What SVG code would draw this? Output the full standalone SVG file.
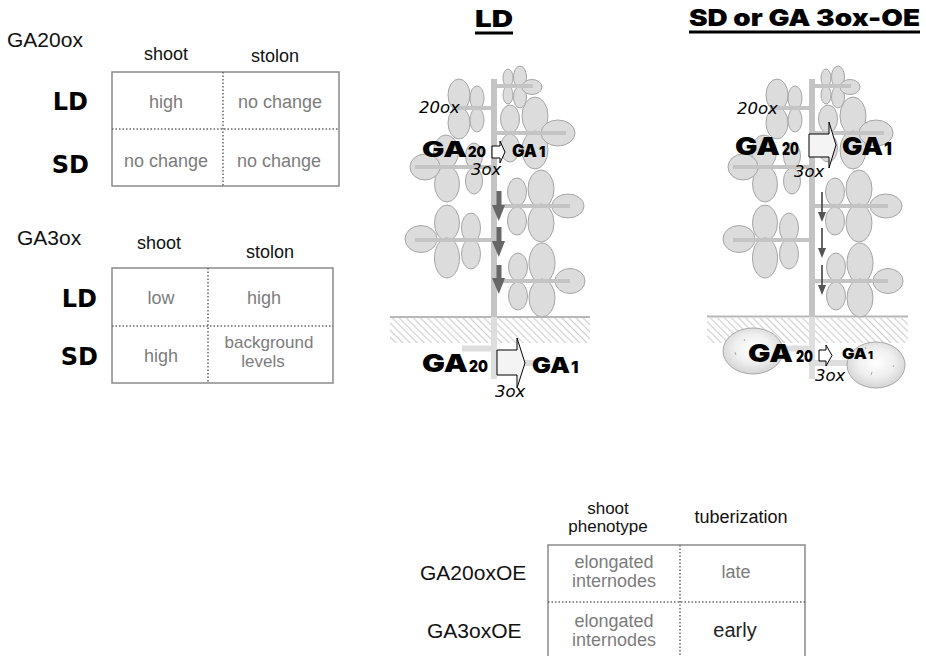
<svg xmlns="http://www.w3.org/2000/svg" width="926" height="656" viewBox="0 0 926 656">
<defs>
<style>
.lbl{font-family:"Liberation Sans",Arial,sans-serif;font-size:21px;fill:#111}
.hd{font-family:"Liberation Sans",Arial,sans-serif;font-size:18px;fill:#111;text-anchor:middle}
.cell{font-family:"Liberation Sans",Arial,sans-serif;font-size:18px;fill:#7c7c7c;text-anchor:middle}
.tight{font-size:17px}
.row{font-family:"DejaVu Sans",sans-serif;font-weight:bold;font-size:24px;fill:#000;text-anchor:end}
.box{fill:none;stroke:#8a8a8a;stroke-width:1.5}
.dot{stroke:#666;stroke-width:1.5;stroke-dasharray:1.5 2;fill:none}
.ga{font-family:Inter,"DejaVu Sans",sans-serif;font-weight:900;fill:#000}
.en{font-family:"DejaVu Sans",sans-serif;font-style:italic;font-size:16.5px;fill:#000}
.lf{fill:#dcdcdc;stroke:#a6a6a6;stroke-width:1}
.br{stroke:#c4c4c4;stroke-width:4;fill:none}
.conv{stroke:#000;stroke-width:1;stroke-linejoin:miter}
.thick{fill:#666}
.thin{stroke:#555;stroke-width:1.8;fill:none}
.ttl{font-family:Inter,"DejaVu Sans",sans-serif;font-weight:900;font-size:23px;fill:#000}
</style>
<pattern id="hatch" width="5" height="5" patternUnits="userSpaceOnUse" patternTransform="rotate(-45)">
  <line x1="2.5" y1="0" x2="2.5" y2="5" stroke="#d2d2d2" stroke-width="1.3"/>
</pattern>
<radialGradient id="tuber" cx="50%" cy="45%" r="55%">
  <stop offset="0" stop-color="#ffffff"/>
  <stop offset="0.55" stop-color="#f0f0f0"/>
  <stop offset="1" stop-color="#d4d4d4"/>
</radialGradient>
<!-- potato plant: stem, compound leaves and stolons -->
<g id="plant">
  <g fill="#dedede">
    <rect x="491" y="317" width="6" height="62"/>
    <rect x="462" y="345.5" width="32" height="6"/>
    <rect x="494" y="360" width="40" height="6"/>
  </g>
  <g class="lf">
    <!-- top right leaf -->
    <ellipse cx="508" cy="78" rx="5" ry="9"/>
    <ellipse cx="508" cy="95" rx="5" ry="9"/>
    <ellipse cx="520" cy="77" rx="6.5" ry="11"/>
    <ellipse cx="520" cy="97" rx="6.5" ry="11"/>
    <ellipse cx="532" cy="87" rx="10" ry="7.5"/>
    <!-- upper left leaf -->
    <ellipse cx="459" cy="95" rx="11" ry="16"/>
    <ellipse cx="459" cy="123" rx="11" ry="16"/>
    <ellipse cx="477" cy="98" rx="7" ry="12"/>
    <ellipse cx="477" cy="120" rx="7" ry="12"/>
    <!-- right leaf -->
    <ellipse cx="510" cy="119" rx="9.5" ry="14"/>
    <ellipse cx="510" cy="148" rx="9.5" ry="14"/>
    <ellipse cx="535" cy="116" rx="13" ry="19"/>
    <ellipse cx="535" cy="150" rx="13" ry="19"/>
    <ellipse cx="558" cy="133" rx="17" ry="13"/>
    <!-- left leaf -->
    <ellipse cx="446" cy="152" rx="12.5" ry="17"/>
    <ellipse cx="447" cy="184" rx="12.5" ry="18"/>
    <ellipse cx="474" cy="156" rx="8.5" ry="13"/>
    <ellipse cx="474" cy="181" rx="8.5" ry="13"/>
    <ellipse cx="425" cy="167" rx="15" ry="13"/>
    <!-- right leaf -->
    <ellipse cx="517" cy="192" rx="9.5" ry="14"/>
    <ellipse cx="517" cy="221" rx="9.5" ry="14"/>
    <ellipse cx="541" cy="189" rx="13" ry="19"/>
    <ellipse cx="541" cy="223" rx="13" ry="19"/>
    <ellipse cx="568" cy="206" rx="16" ry="12"/>
    <!-- left leaf -->
    <ellipse cx="447" cy="223" rx="12.5" ry="18"/>
    <ellipse cx="447" cy="258" rx="12.5" ry="20"/>
    <ellipse cx="471" cy="228" rx="9.5" ry="15"/>
    <ellipse cx="471" cy="254" rx="9.5" ry="15"/>
    <ellipse cx="421" cy="239" rx="16" ry="13.5"/>
    <!-- lower right leaf -->
    <ellipse cx="518" cy="267" rx="9.5" ry="14"/>
    <ellipse cx="518" cy="296" rx="9.5" ry="14"/>
    <ellipse cx="542" cy="263" rx="13" ry="20"/>
    <ellipse cx="542" cy="298" rx="13" ry="19"/>
    <ellipse cx="570" cy="281" rx="15" ry="12.5"/>
  </g>
  <g class="br">
    <line x1="494" y1="86" x2="533" y2="86"/>
    <line x1="494" y1="108" x2="452" y2="108"/>
    <line x1="494" y1="133" x2="566" y2="133"/>
    <line x1="494" y1="167" x2="415" y2="167"/>
    <line x1="494" y1="206" x2="570" y2="206"/>
    <line x1="494" y1="240" x2="415" y2="240"/>
    <line x1="494" y1="281" x2="570" y2="281"/>
  </g>
  <rect x="491" y="79" width="6" height="238" fill="#c4c4c4"/>
</g>
</defs>

<rect width="926" height="656" fill="#fff"/>

<!-- GA20ox expression table -->
<g id="table-ga20ox">
  <text class="lbl" x="7" y="47">GA20ox</text>
  <text class="hd" x="166" y="60">shoot</text>
  <text class="hd" x="275" y="62">stolon</text>
  <rect class="box" x="112" y="72" width="227" height="114"/>
  <line class="dot" x1="223" y1="72" x2="223" y2="186"/>
  <line class="dot" x1="112" y1="129" x2="339" y2="129"/>
  <text class="row" x="88" y="110">LD</text>
  <text class="row" x="89" y="173">SD</text>
  <text class="cell" x="166" y="108">high</text>
  <text class="cell" x="280" y="108">no change</text>
  <text class="cell" x="166" y="167">no change</text>
  <text class="cell" x="279" y="167">no change</text>
</g>

<!-- GA3ox expression table -->
<g id="table-ga3ox">
  <text class="lbl" x="17" y="245">GA3ox</text>
  <text class="hd" x="159" y="249">shoot</text>
  <text class="hd" x="270" y="258">stolon</text>
  <rect class="box" x="112" y="268" width="221" height="115"/>
  <line class="dot" x1="208" y1="268" x2="208" y2="383"/>
  <line class="dot" x1="112" y1="326" x2="333" y2="326"/>
  <text class="row" x="97" y="307">LD</text>
  <text class="row" x="98" y="365">SD</text>
  <text class="cell" x="161" y="304">low</text>
  <text class="cell" x="264" y="304">high</text>
  <text class="cell" x="161" y="362">high</text>
  <text class="cell tight" x="269" y="348">background</text>
  <text class="cell tight" x="263" y="367">levels</text>
</g>

<!-- LD plant -->
<g id="plant-ld">
  <text class="ttl" x="475" y="27" textLength="38" lengthAdjust="spacingAndGlyphs">LD</text>
  <rect x="475" y="31.5" width="38" height="3" fill="#000"/>
  <rect x="390" y="318" width="200" height="25" fill="url(#hatch)"/>
  <line x1="390" y1="317" x2="590" y2="317" stroke="#b8b8b8" stroke-width="2"/>
  <use href="#plant"/>
  <g class="thick">
    <rect x="496.5" y="191" width="5" height="15"/><polygon points="492,205 505,205 498.8,221"/>
    <rect x="496.5" y="227" width="5" height="15"/><polygon points="492,241 505,241 498.8,257"/>
    <rect x="496.5" y="265" width="5" height="14"/><polygon points="492,278 505,278 498.8,294"/>
  </g>
  <text class="en" x="419" y="113">20ox</text>
  <text class="ga" x="422" y="157" font-size="21" textLength="45" lengthAdjust="spacingAndGlyphs">GA</text>
  <text class="ga" x="468" y="157" font-size="14" textLength="18" lengthAdjust="spacingAndGlyphs">20</text>
  <polygon class="conv" fill="#fff" points="492,146 500,146 500,141 505,152 500,163 500,158 492,158"/>
  <text class="ga" x="512" y="157" font-size="17.5" textLength="25" lengthAdjust="spacingAndGlyphs">GA</text>
  <text class="ga" x="539" y="157" font-size="14">1</text>
  <text class="en" x="471" y="175">3ox</text>
  <text class="ga" x="422" y="372" font-size="25" textLength="46" lengthAdjust="spacingAndGlyphs">GA</text>
  <text class="ga" x="469" y="372" font-size="16.5" textLength="19" lengthAdjust="spacingAndGlyphs">20</text>
  <polygon class="conv" fill="#f4f4f4" points="497,350 517,350 517,338 525,363 517,388 517,375 497,375"/>
  <text class="ga" x="532" y="373" font-size="22" textLength="38" lengthAdjust="spacingAndGlyphs">GA</text>
  <text class="ga" x="571" y="373" font-size="16.5">1</text>
  <text class="en" x="495" y="397">3ox</text>
</g>

<!-- SD or GA 3ox-OE plant -->
<g id="plant-sd">
  <text class="ttl" x="689" y="26" textLength="231" lengthAdjust="spacingAndGlyphs">SD or GA 3ox-OE</text>
  <rect x="689" y="30.5" width="231" height="3" fill="#000"/>
  <rect x="707" y="318" width="201" height="25" fill="url(#hatch)"/>
  <line x1="707" y1="316.5" x2="908" y2="316.5" stroke="#b8b8b8" stroke-width="2"/>
  <use href="#plant" transform="translate(318,0)"/>
  <g class="thin">
    <line x1="822" y1="192" x2="822" y2="213"/>
    <line x1="822" y1="228" x2="822" y2="249"/>
    <line x1="822" y1="265" x2="822" y2="286"/>
  </g>
  <g fill="#555">
    <polygon points="818,212 826,212 822,222"/>
    <polygon points="818,248 826,248 822,258"/>
    <polygon points="818,285 826,285 822,295"/>
  </g>
  <g stroke="#a8a8a8" stroke-width="1" fill="url(#tuber)">
    <ellipse cx="753" cy="351" rx="30" ry="23"/>
    <ellipse cx="876" cy="365" rx="29" ry="23"/>
  </g>
  <g stroke="#aaa" stroke-width="1">
    <line x1="735" y1="352" x2="736" y2="355"/>
    <line x1="744" y1="339" x2="745" y2="341"/>
    <line x1="865" y1="347" x2="866" y2="349"/>
    <line x1="872" y1="372" x2="871" y2="375"/>
    <line x1="893" y1="367" x2="894" y2="365"/>
  </g>
  <text class="en" x="737" y="114">20ox</text>
  <text class="ga" x="735" y="155" font-size="24.5" textLength="45" lengthAdjust="spacingAndGlyphs">GA</text>
  <text class="ga" x="782" y="155" font-size="17.5" textLength="17" lengthAdjust="spacingAndGlyphs">20</text>
  <polygon class="conv" fill="#f4f4f4" points="809,134 829,134 829,122 836,145 829,168 829,157 809,157"/>
  <text class="ga" x="842" y="155" font-size="24.5" textLength="41" lengthAdjust="spacingAndGlyphs">GA</text>
  <text class="ga" x="884" y="155" font-size="17.5">1</text>
  <text class="en" x="794" y="177">3ox</text>
  <text class="ga" x="748" y="362" font-size="25" textLength="45" lengthAdjust="spacingAndGlyphs">GA</text>
  <text class="ga" x="796" y="362" font-size="16" textLength="17" lengthAdjust="spacingAndGlyphs">20</text>
  <polygon class="conv" fill="#fff" points="819,350 826,350 826,345 832,355.5 826,366 826,361 819,361"/>
  <text class="ga" x="842" y="359" font-size="15" textLength="25" lengthAdjust="spacingAndGlyphs">GA</text>
  <text class="ga" x="868" y="359" font-size="11">1</text>
  <text class="en" x="815" y="381">3ox</text>
</g>

<!-- overexpression phenotype table -->
<g id="table-oe">
  <text class="hd tight" x="608" y="514">shoot</text>
  <text class="hd tight" x="608" y="532">phenotype</text>
  <text class="hd" x="741" y="523">tuberization</text>
  <rect class="box" x="548" y="545" width="257" height="114"/>
  <line class="dot" x1="680" y1="545" x2="680" y2="659"/>
  <line class="dot" x1="548" y1="602" x2="805" y2="602"/>
  <text class="lbl" x="420" y="580">GA20oxOE</text>
  <text class="lbl" x="427" y="638">GA3oxOE</text>
  <text class="cell" x="614" y="568">elongated</text>
  <text class="cell" x="614" y="587">internodes</text>
  <text class="cell" x="614" y="627">elongated</text>
  <text class="cell" x="614" y="646">internodes</text>
  <text class="cell" x="736" y="578">late</text>
  <text class="cell" x="735" y="637" style="font-size:20px;fill:#222">early</text>
</g>
</svg>
